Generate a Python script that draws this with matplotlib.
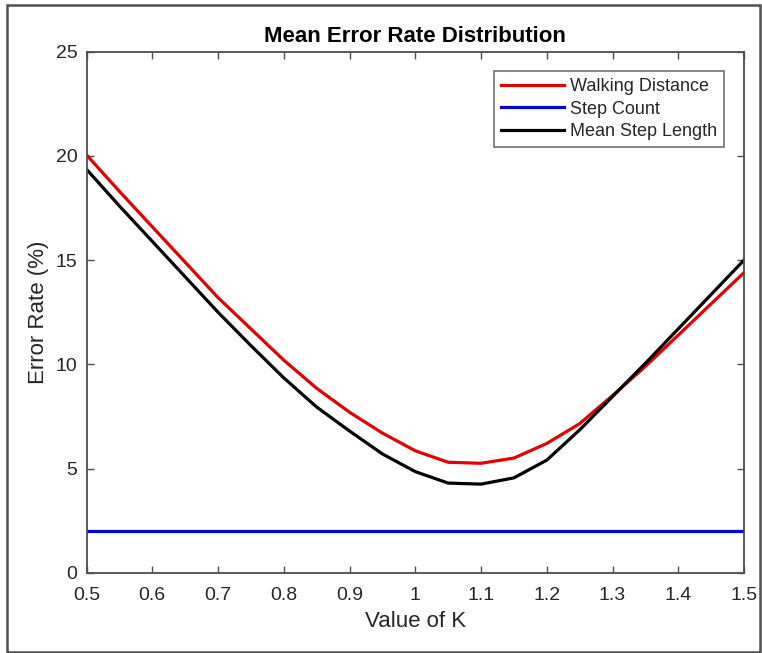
import matplotlib
matplotlib.use("Agg")
import matplotlib.pyplot as plt
from matplotlib.patches import Rectangle

plt.rcParams['font.family'] = ['Liberation Sans', 'DejaVu Sans']

k_values = [0.5, 0.55, 0.6, 0.65, 0.7, 0.75, 0.8, 0.85, 0.9, 0.95, 1.0,
            1.05, 1.1, 1.15, 1.2, 1.25, 1.3, 1.35, 1.4, 1.45, 1.5]
walking_distance = [20.05, 18.3, 16.6, 14.9, 13.2, 11.7, 10.2, 8.85, 7.7, 6.7, 5.85,
                    5.3, 5.25, 5.5, 6.2, 7.15, 8.5, 9.9, 11.4, 12.9, 14.4]
step_count = [2.0] * len(k_values)
mean_step_length = [19.36, 17.6, 15.9, 14.2, 12.5, 10.9, 9.35, 7.95, 6.8, 5.7, 4.85,
                    4.3, 4.25, 4.55, 5.4, 6.85, 8.45, 10.05, 11.7, 13.35, 15.0]

x_ticks = [0.5, 0.6, 0.7, 0.8, 0.9, 1.0, 1.1, 1.2, 1.3, 1.4, 1.5]
x_tick_labels = ['0.5', '0.6', '0.7', '0.8', '0.9', '1', '1.1', '1.2', '1.3', '1.4', '1.5']
y_ticks = [0, 5, 10, 15, 20, 25]

W, H = 762, 653
fig = plt.figure(figsize=(W / 100, H / 100), dpi=100)
ax = fig.add_axes([86.5 / W, 1 - 572.7 / H, (744 - 86.5) / W, (572.7 - 51.7) / H])

axis_color = '#4d4d4d'
text_color = '#262626'

ax.plot(k_values, walking_distance, color='#e00000', lw=2.3, label='Walking Distance')
ax.plot(k_values, step_count, color='#0000d0', lw=2.3, label='Step Count')
ax.plot(k_values, mean_step_length, color='black', lw=2.3, label='Mean Step Length')

ax.set_xlim(0.5, 1.5)
ax.set_ylim(0, 25)
ax.set_xticks(x_ticks)
ax.set_xticklabels(x_tick_labels)
ax.set_yticks(y_ticks)
ax.tick_params(direction='in', length=5, width=1, colors=axis_color,
               labelcolor=text_color, labelsize=14, top=True, right=True)
ax.tick_params(axis='x', pad=10)
ax.tick_params(axis='y', pad=6.5)
for s in ax.spines.values():
    s.set_color(axis_color)
    s.set_linewidth(1.3)

ax.set_xlabel('Value of K', fontsize=16, color=text_color, labelpad=5)
ax.set_ylabel('Error Rate (%)', fontsize=16, color=text_color, labelpad=5)
ax.set_title('Mean Error Rate Distribution', fontsize=16, fontweight='bold',
             color='black', pad=7)

leg = ax.legend(loc='upper right', bbox_to_anchor=(0.9696, 0.963), fontsize=13,
                frameon=True, fancybox=False, handlelength=3.5, handletextpad=0.3,
                borderpad=0.4, labelspacing=0.3, borderaxespad=0)
leg.get_frame().set_edgecolor(axis_color)
leg.get_frame().set_linewidth(1.2)
for t in leg.get_texts():
    t.set_color(text_color)

fig.patches.append(Rectangle((7 / W, 1 / H), (760 - 7) / W, (648 - 1) / H,
                             transform=fig.transFigure, fill=False,
                             edgecolor='#505050', lw=1.8))

fig.savefig('out.png', dpi=100)
